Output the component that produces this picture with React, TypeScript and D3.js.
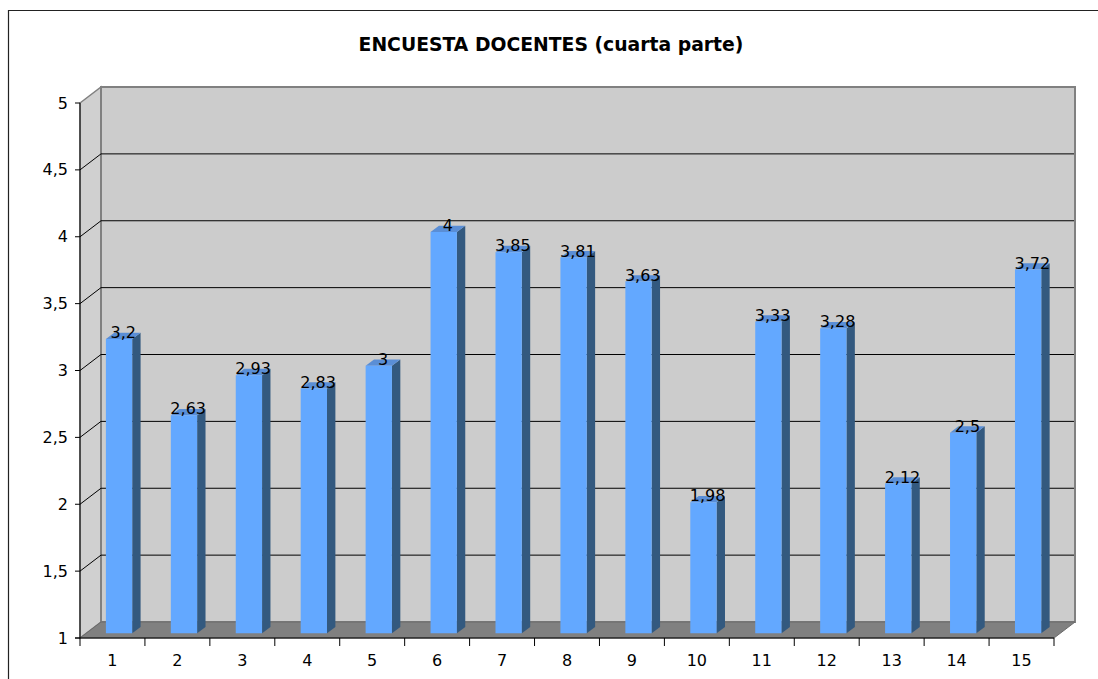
import React from "react";
import * as d3 from "d3";

const title = "ENCUESTA DOCENTES (cuarta parte)";
const categories = ["1", "2", "3", "4", "5", "6", "7", "8", "9", "10", "11", "12", "13", "14", "15"];
const values = [3.2, 2.63, 2.93, 2.83, 3, 4, 3.85, 3.81, 3.63, 1.98, 3.33, 3.28, 2.12, 2.5, 3.72];
const yTicks = [1, 1.5, 2, 2.5, 3, 3.5, 4, 4.5, 5];

const W = 1098;
const H = 679;
const DX = 21; // depth offset x
const DY = 16; // depth offset y
const F1 = 0.29; // bar front depth fraction
const F2 = 0.69; // bar back depth fraction
const FONT = "'DejaVu Sans', Verdana, sans-serif";

const fmt = (v: number) => String(v).replace(".", ",");

export default function App() {
  const x = d3.scaleBand<string>().domain(categories).range([80, 1054]).padding(0);
  const y = d3.scaleLinear().domain([1, 5]).range([638, 103]);
  const bw = x.bandwidth();
  const proj = (px: number, v: number, f: number): [number, number] => [px + f * DX, y(v) - f * DY];
  const pts = (arr: [number, number][]) => arr.map((p) => p.join(",")).join(" ");

  const x0 = 80;
  const x1 = 1054;

  return (
    <svg
      width={W}
      height={H}
      style={{ position: "absolute", left: 0, top: 0, background: "#fff" }}
      fontFamily={FONT}
    >
      <path d={`M8.5,${H} V10.5 H${W}`} fill="none" stroke="#222" strokeWidth={1.2} />
      <text x={551} y={51} textAnchor="middle" fontSize={18.8} fontWeight="bold" fill="#000">
        {title}
      </text>

      {/* left wall */}
      <polygon
        points={pts([proj(x0, 5, 0), proj(x0, 5, 1), proj(x0, 1, 1), proj(x0, 1, 0)])}
        fill="#d0d0d0"
        stroke="#808080"
        strokeWidth={1.5}
      />
      {/* back wall */}
      <polygon
        points={pts([proj(x0, 5, 1), proj(x1, 5, 1), proj(x1, 1, 1), proj(x0, 1, 1)])}
        fill="#cccccc"
        stroke="#808080"
        strokeWidth={2}
      />
      {/* gridlines */}
      {yTicks
        .filter((t) => t > 1 && t < 5)
        .map((t) => {
          const a = proj(x0, t, 0);
          const b = proj(x0, t, 1);
          const c = proj(x1, t, 1);
          return (
            <g key={t}>
              <line x1={a[0]} y1={a[1]} x2={b[0]} y2={b[1]} stroke="#000" strokeWidth={1} />
              <line x1={b[0]} y1={b[1]} x2={c[0] - 1} y2={c[1]} stroke="#000" strokeWidth={1} />
            </g>
          );
        })}
      {/* floor */}
      <polygon
        points={pts([proj(x0, 1, 0), proj(x1, 1, 0), proj(x1, 1, 1), proj(x0, 1, 1)])}
        fill="#808080"
        stroke="#6a6a6a"
        strokeWidth={1}
      />

      {/* bars */}
      {categories.map((c, i) => {
        const v = values[i];
        const bx0 = (x(c) as number) + bw * 0.305;
        const bx1 = bx0 + bw * 0.405;
        const front = [proj(bx0, v, F1), proj(bx1, v, F1), proj(bx1, 1, F1), proj(bx0, 1, F1)] as [number, number][];
        const side = [proj(bx1, v, F1), proj(bx1, v, F2), proj(bx1, 1, F2), proj(bx1, 1, F1)] as [number, number][];
        const top = [proj(bx0, v, F1), proj(bx0, v, F2), proj(bx1, v, F2), proj(bx1, v, F1)] as [number, number][];
        const cx = (front[0][0] + side[1][0]) / 2;
        return (
          <g key={c}>
            <polygon points={pts(side)} fill="#33597f" />
            <polygon points={pts(top)} fill="#5a8ed6" />
            <polygon points={pts(front)} fill="#63a8ff" />
            <text x={cx} y={front[0][1] - 1} textAnchor="middle" fontSize={16} fill="#000">
              {fmt(v)}
            </text>
          </g>
        );
      })}

      {/* axes */}
      <line x1={x0} y1={y(5)} x2={x0} y2={y(1) + 8} stroke="#000" strokeWidth={1} />
      <line x1={x0 - 5} y1={y(1)} x2={x1} y2={y(1)} stroke="#000" strokeWidth={1} />
      {yTicks.map((t) => (
        <g key={t}>
          <line x1={x0 - 5} y1={y(t)} x2={x0} y2={y(t)} stroke="#000" />
          <text x={68} y={y(t) + 5.5} textAnchor="end" fontSize={16} fill="#000">
            {fmt(t)}
          </text>
        </g>
      ))}
      {categories.map((c) => (
        <g key={c}>
          <line x1={(x(c) as number) + bw} y1={y(1)} x2={(x(c) as number) + bw} y2={y(1) + 8} stroke="#000" />
          <text x={(x(c) as number) + bw / 2} y={666} textAnchor="middle" fontSize={16} fill="#000">
            {c}
          </text>
        </g>
      ))}
    </svg>
  );
}
